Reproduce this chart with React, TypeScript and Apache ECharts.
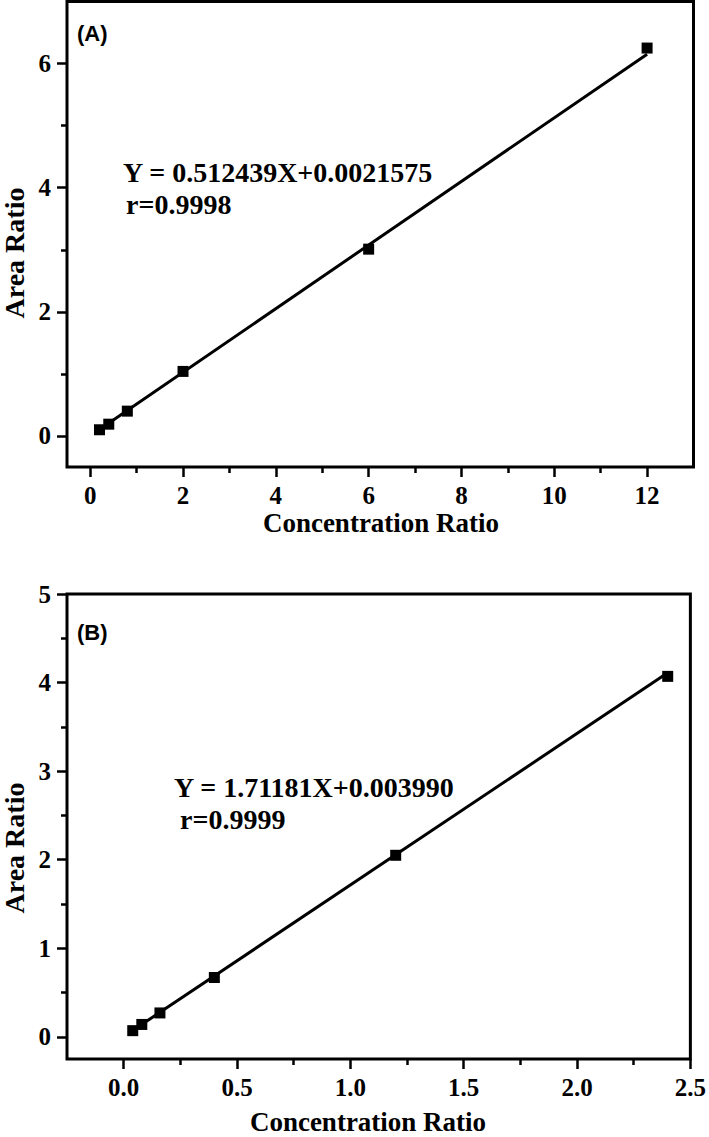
import React, { useEffect, useRef } from "react";
import * as echarts from "echarts";

// Panel A data
const concA = [0.2, 0.4, 0.8, 2, 6, 12];
const areaA = [0.1, 0.19, 0.4, 1.04, 3.01, 6.25];
const fitA = [
  [0.2, 0.105],
  [12, 6.15],
];
const xTicksA = [0, 2, 4, 6, 8, 10, 12];
const xMinorA = [1, 3, 5, 7, 9, 11];
const yTicksA = [0, 2, 4, 6];
const yMinorA = [1, 3, 5];
const eqA = "Y = 0.512439X+0.0021575";
const rA = "r=0.9998";

// Panel B data
const concB = [0.04, 0.08, 0.16, 0.4, 1.2, 2.4];
const areaB = [0.07, 0.14, 0.27, 0.67, 2.05, 4.07];
const fitB = [
  [0.04, 0.072],
  [2.4, 4.11],
];
const xTicksB = [0, 0.5, 1, 1.5, 2, 2.5];
const xMinorB = [0.25, 0.75, 1.25, 1.75, 2.25];
const yTicksB = [0, 1, 2, 3, 4, 5];
const yMinorB = [0.5, 1.5, 2.5, 3.5, 4.5];
const eqB = "Y = 1.71181X+0.003990";
const rB = "r=0.9999";

const xTitle = "Concentration Ratio";
const yTitle = "Area Ratio";

const SERIF = "Liberation Serif";
const SANS = "Liberation Sans";

export default function App() {
  const ref = useRef<HTMLDivElement>(null);

  useEffect(() => {
    if (!ref.current) return;
    const chart = echarts.init(ref.current, null, { renderer: "svg" });

    const tickLine = { color: "#000", width: 2.5 };

    const majorAxis = (
      dim: "x" | "y",
      grid: number,
      min: number,
      max: number,
      ticks: number[],
      fmt?: (v: number) => string
    ) => ({
      type: "value",
      gridIndex: grid,
      min,
      max,
      position: dim === "x" ? "bottom" : "left",
      axisLine: { show: false, onZero: false },
      splitLine: { show: false },
      axisTick: {
        show: true,
        inside: false,
        length: 10,
        customValues: ticks,
        lineStyle: tickLine,
      },
      axisLabel: {
        show: true,
        color: "#000",
        fontFamily: SERIF,
        fontWeight: "bold",
        fontSize: 25,
        customValues: ticks,
        margin: dim === "x" ? 16 : 16,
        formatter: fmt ? (v: number) => fmt(v) : (v: number) => String(v),
      },
    });

    const minorAxis = (
      dim: "x" | "y",
      grid: number,
      min: number,
      max: number,
      ticks: number[]
    ) => ({
      type: "value",
      gridIndex: grid,
      min,
      max,
      position: dim === "x" ? "bottom" : "left",
      axisLine: { show: false, onZero: false },
      splitLine: { show: false },
      axisTick: {
        show: true,
        inside: false,
        length: 6,
        customValues: ticks,
        lineStyle: tickLine,
      },
      axisLabel: { show: false },
    });

    const toPairs = (xs: number[], ys: number[]) => xs.map((x, i) => [x, ys[i]]);

    const fix1 = (v: number) => v.toFixed(1);

    const text = (
      str: string,
      x: number,
      y: number,
      size: number,
      family: string,
      align: string = "left",
      rotation = 0
    ) => ({
      type: "text",
      x,
      y,
      rotation,
      style: {
        text: str,
        fontSize: size,
        fontFamily: family,
        fontWeight: "bold",
        fill: "#000",
        align,
        verticalAlign: "middle",
      },
    });

    chart.setOption({
      animation: false,
      backgroundColor: "#fff",
      textStyle: { fontFamily: SERIF, fontWeight: "bold", fontSize: 25, color: "#000" },
      grid: [
        {
          left: 67,
          top: 1.5,
          width: 626.5,
          height: 465.5,
          show: true,
          borderColor: "#000",
          borderWidth: 3,
          backgroundColor: "transparent",
        },
        {
          left: 67,
          top: 594,
          width: 626,
          height: 465,
          show: true,
          borderColor: "#000",
          borderWidth: 3,
          backgroundColor: "transparent",
        },
      ],
      xAxis: [
        majorAxis("x", 0, -0.5, 13, xTicksA),
        minorAxis("x", 0, -0.5, 13, xMinorA),
        majorAxis("x", 1, -0.25, 2.5, xTicksB, fix1),
        minorAxis("x", 1, -0.25, 2.5, xMinorB),
      ],
      yAxis: [
        majorAxis("y", 0, -0.5, 7, yTicksA),
        minorAxis("y", 0, -0.5, 7, yMinorA),
        majorAxis("y", 1, -0.25, 5, yTicksB),
        minorAxis("y", 1, -0.25, 5, yMinorB),
      ],
      series: [
        {
          type: "line",
          xAxisIndex: 0,
          yAxisIndex: 0,
          data: fitA,
          symbol: "none",
          lineStyle: { color: "#000", width: 3 },
          z: 2,
        },
        {
          type: "scatter",
          xAxisIndex: 0,
          yAxisIndex: 0,
          data: toPairs(concA, areaA),
          symbol: "rect",
          symbolSize: 11,
          itemStyle: { color: "#000", opacity: 1 },
          z: 3,
        },
        {
          type: "line",
          xAxisIndex: 2,
          yAxisIndex: 2,
          data: fitB,
          symbol: "none",
          lineStyle: { color: "#000", width: 3 },
          z: 2,
        },
        {
          type: "scatter",
          xAxisIndex: 2,
          yAxisIndex: 2,
          data: toPairs(concB, areaB),
          symbol: "rect",
          symbolSize: 11,
          itemStyle: { color: "#000", opacity: 1 },
          z: 3,
        },
      ],
      graphic: [
        text("(A)", 77, 33, 22, SANS),
        text(eqA, 123, 172, 28, SERIF),
        text(rA, 126, 204, 28, SERIF),
        text(xTitle, 381, 523, 27, SERIF, "center"),
        text(yTitle, 14, 253, 28, SERIF, "center", Math.PI / 2),
        text("(B)", 77, 632, 22, SANS),
        text(eqB, 174, 787, 28, SERIF),
        text(rB, 180, 819, 28, SERIF),
        text(xTitle, 368, 1122, 27, SERIF, "center"),
        text(yTitle, 14, 848, 28, SERIF, "center", Math.PI / 2),
      ],
    });

    return () => chart.dispose();
  }, []);

  return (
    <div
      ref={ref}
      style={{ position: "absolute", left: 0, top: 0, width: 709, height: 1137 }}
    />
  );
}
